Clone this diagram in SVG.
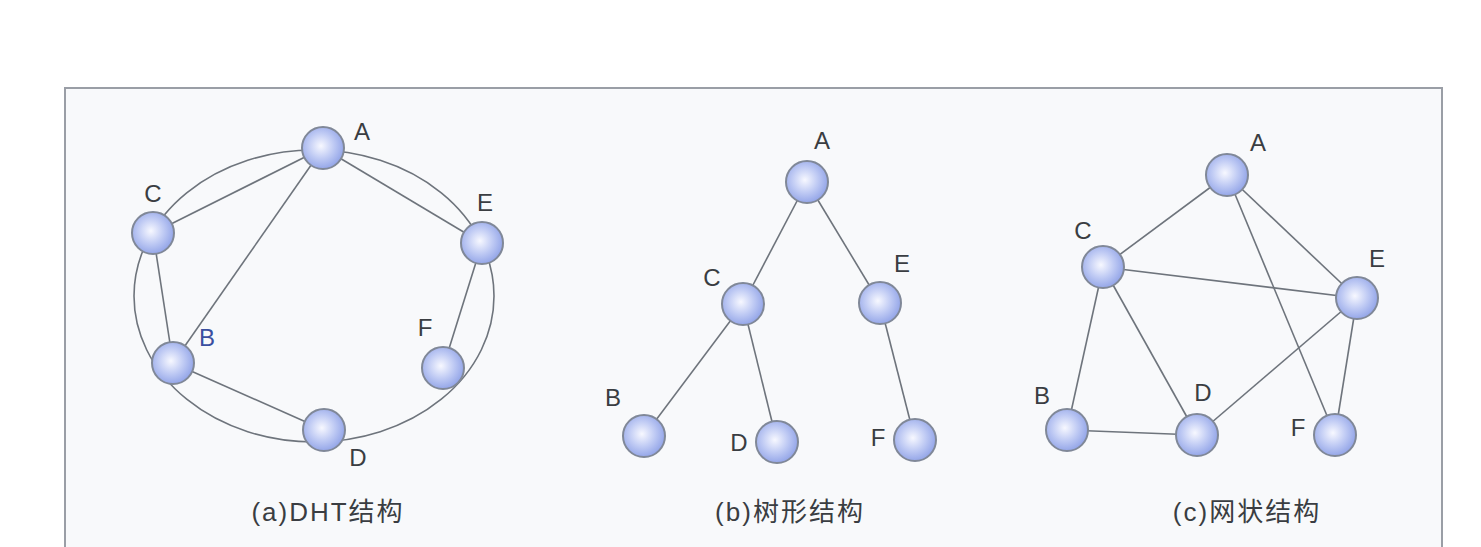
<svg xmlns="http://www.w3.org/2000/svg" width="1481" height="547" viewBox="0 0 1481 547">
<defs>
<radialGradient id="ball" cx="0.45" cy="0.45" r="0.6">
<stop offset="0" stop-color="#f7f8ff"/>
<stop offset="0.5" stop-color="#c0cbf4"/>
<stop offset="1" stop-color="#8c9fe6"/>
</radialGradient>
<style>
.frame{fill:#f8f9fb;stroke:#9a9ea6;stroke-width:2}
.edge{stroke:#6e747c;stroke-width:1.6;fill:none}
.node circle{fill:url(#ball);stroke:#808898;stroke-width:2}
.lbl{font-family:"Liberation Sans","DejaVu Sans",sans-serif;font-size:24px;fill:#3a3d42;text-anchor:middle}
.cap{font-family:"Liberation Sans","Noto Sans CJK SC",sans-serif;font-size:26px;letter-spacing:2px;fill:#3a3d42;text-anchor:middle}
</style>
</defs>
<rect width="1481" height="547" fill="#ffffff"/>
<rect class="frame" x="65" y="88" width="1377" height="480"/>

<g id="connectors">
<!-- (a) DHT -->
<ellipse class="edge" cx="314" cy="296" rx="180" ry="146"/>
<line class="edge" x1="323" y1="148" x2="153" y2="233"/>
<line class="edge" x1="323" y1="148" x2="173" y2="363"/>
<line class="edge" x1="323" y1="148" x2="482" y2="243"/>
<line class="edge" x1="153" y1="233" x2="173" y2="363"/>
<line class="edge" x1="173" y1="363" x2="324" y2="430"/>
<line class="edge" x1="482" y1="243" x2="443" y2="368"/>
<!-- (b) tree -->
<line class="edge" x1="807" y1="182" x2="743" y2="304"/>
<line class="edge" x1="807" y1="182" x2="880" y2="303"/>
<line class="edge" x1="743" y1="304" x2="644" y2="436"/>
<line class="edge" x1="743" y1="304" x2="777" y2="442"/>
<line class="edge" x1="880" y1="303" x2="915" y2="440"/>
<!-- (c) mesh -->
<line class="edge" x1="1227" y1="175" x2="1103" y2="267"/>
<line class="edge" x1="1227" y1="175" x2="1357" y2="298"/>
<line class="edge" x1="1227" y1="175" x2="1335" y2="435"/>
<line class="edge" x1="1103" y1="267" x2="1357" y2="298"/>
<line class="edge" x1="1103" y1="267" x2="1197" y2="435"/>
<line class="edge" x1="1103" y1="267" x2="1067" y2="430"/>
<line class="edge" x1="1067" y1="430" x2="1197" y2="435"/>
<line class="edge" x1="1197" y1="435" x2="1357" y2="298"/>
<line class="edge" x1="1357" y1="298" x2="1335" y2="435"/>
</g>

<!-- (a) nodes -->
<g id="a-A" class="node"><circle cx="323" cy="148" r="21"/><text class="lbl" x="362" y="140">A</text></g>
<g id="a-C" class="node"><circle cx="153" cy="233" r="21"/><text class="lbl" x="153" y="202">C</text></g>
<g id="a-E" class="node"><circle cx="482" cy="243" r="21"/><text class="lbl" x="485" y="211">E</text></g>
<g id="a-B" class="node"><circle cx="173" cy="363" r="21"/><text class="lbl" x="207" y="346" style="fill:#3a4fa0">B</text></g>
<g id="a-F" class="node"><circle cx="443" cy="368" r="21"/><text class="lbl" x="425" y="336">F</text></g>
<g id="a-D" class="node"><circle cx="324" cy="430" r="21"/><text class="lbl" x="358" y="466">D</text></g>

<!-- (b) nodes -->
<g id="b-A" class="node"><circle cx="807" cy="182" r="21"/><text class="lbl" x="822" y="149">A</text></g>
<g id="b-C" class="node"><circle cx="743" cy="304" r="21"/><text class="lbl" x="712" y="286">C</text></g>
<g id="b-E" class="node"><circle cx="880" cy="303" r="21"/><text class="lbl" x="902" y="272">E</text></g>
<g id="b-B" class="node"><circle cx="644" cy="436" r="21"/><text class="lbl" x="613" y="406">B</text></g>
<g id="b-D" class="node"><circle cx="777" cy="442" r="21"/><text class="lbl" x="739" y="451">D</text></g>
<g id="b-F" class="node"><circle cx="915" cy="440" r="21"/><text class="lbl" x="878" y="446">F</text></g>

<!-- (c) nodes -->
<g id="c-A" class="node"><circle cx="1227" cy="175" r="21"/><text class="lbl" x="1258" y="151">A</text></g>
<g id="c-C" class="node"><circle cx="1103" cy="267" r="21"/><text class="lbl" x="1083" y="239">C</text></g>
<g id="c-E" class="node"><circle cx="1357" cy="298" r="21"/><text class="lbl" x="1377" y="267">E</text></g>
<g id="c-B" class="node"><circle cx="1067" cy="430" r="21"/><text class="lbl" x="1042" y="404">B</text></g>
<g id="c-D" class="node"><circle cx="1197" cy="435" r="21"/><text class="lbl" x="1203" y="401">D</text></g>
<g id="c-F" class="node"><circle cx="1335" cy="435" r="21"/><text class="lbl" x="1298" y="436">F</text></g>

<g id="captions">
<text class="cap" x="328" y="521">(a)DHT结构</text>
<text class="cap" x="790" y="521">(b)树形结构</text>
<text class="cap" x="1247" y="521">(c)网状结构</text>
</g>
</svg>
